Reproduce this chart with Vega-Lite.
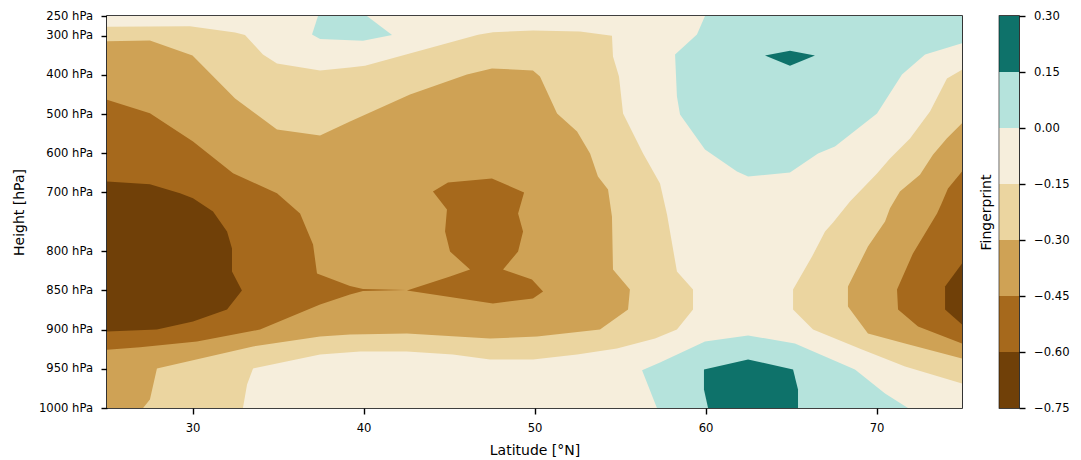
{
  "$schema": "https://vega.github.io/schema/vega-lite/v6.json",
  "background": "white",
  "padding": {"left": 12, "top": 9, "right": 5, "bottom": 2},
  "config": {
    "font": "DejaVu Sans",
    "view": {"stroke": "#000000", "strokeWidth": 1.6},
    "axis": {
      "labelFont": "DejaVu Sans", "titleFont": "DejaVu Sans",
      "labelFontSize": 11.6, "titleFontSize": 14, "titleFontWeight": "normal",
      "labelColor": "#000000", "titleColor": "#000000", "tickColor": "#000000",
      "tickWidth": 1.4, "tickSize": 6, "labelPadding": 8.5,
      "domain": false, "grid": false, "labelFlush": false, "labelOverlap": false
    }
  },
  "datasets": {
    "poly": [
      {"g":"bg","band":"-0.15..0.00","i":1,"lat":25,"p":250},
      {"g":"bg","band":"-0.15..0.00","i":2,"lat":75,"p":250},
      {"g":"bg","band":"-0.15..0.00","i":3,"lat":75,"p":1000},
      {"g":"bg","band":"-0.15..0.00","i":4,"lat":25,"p":1000},

      {"g":"L1a","band":"-0.30..-0.15","i":1,"lat":25,"p":277.5},
      {"g":"L1a","band":"-0.30..-0.15","i":2,"lat":29.85,"p":276},
      {"g":"L1a","band":"-0.30..-0.15","i":3,"lat":32.49,"p":292.1},
      {"g":"L1a","band":"-0.30..-0.15","i":4,"lat":33.07,"p":298.5},
      {"g":"L1a","band":"-0.30..-0.15","i":5,"lat":34.12,"p":348.2},
      {"g":"L1a","band":"-0.30..-0.15","i":6,"lat":34.94,"p":371.2},
      {"g":"L1a","band":"-0.30..-0.15","i":7,"lat":37.46,"p":389},
      {"g":"L1a","band":"-0.30..-0.15","i":8,"lat":39.21,"p":381.4},
      {"g":"L1a","band":"-0.30..-0.15","i":9,"lat":40.09,"p":377},
      {"g":"L1a","band":"-0.30..-0.15","i":10,"lat":46.7,"p":298},
      {"g":"L1a","band":"-0.30..-0.15","i":11,"lat":47.57,"p":291.3},
      {"g":"L1a","band":"-0.30..-0.15","i":12,"lat":49.91,"p":287},
      {"g":"L1a","band":"-0.30..-0.15","i":13,"lat":52.66,"p":289.5},
      {"g":"L1a","band":"-0.30..-0.15","i":14,"lat":54.53,"p":300.5},
      {"g":"L1a","band":"-0.30..-0.15","i":15,"lat":54.59,"p":353.3},
      {"g":"L1a","band":"-0.30..-0.15","i":16,"lat":54.94,"p":404.3},
      {"g":"L1a","band":"-0.30..-0.15","i":17,"lat":55.18,"p":498.7},
      {"g":"L1a","band":"-0.30..-0.15","i":18,"lat":56.35,"p":600.8},
      {"g":"L1a","band":"-0.30..-0.15","i":19,"lat":57.34,"p":677.3},
      {"g":"L1a","band":"-0.30..-0.15","i":20,"lat":57.75,"p":753.2},
      {"g":"L1a","band":"-0.30..-0.15","i":21,"lat":58.33,"p":825.9},
      {"g":"L1a","band":"-0.30..-0.15","i":22,"lat":59.27,"p":848.9},
      {"g":"L1a","band":"-0.30..-0.15","i":23,"lat":59.27,"p":874.4},
      {"g":"L1a","band":"-0.30..-0.15","i":24,"lat":58.33,"p":899.9},
      {"g":"L1a","band":"-0.30..-0.15","i":25,"lat":57.05,"p":911.3},
      {"g":"L1a","band":"-0.30..-0.15","i":26,"lat":54.82,"p":924.1},
      {"g":"L1a","band":"-0.30..-0.15","i":27,"lat":52.49,"p":931.8},
      {"g":"L1a","band":"-0.30..-0.15","i":28,"lat":49.91,"p":938.1},
      {"g":"L1a","band":"-0.30..-0.15","i":29,"lat":47.4,"p":938.1},
      {"g":"L1a","band":"-0.30..-0.15","i":30,"lat":45.23,"p":931.8},
      {"g":"L1a","band":"-0.30..-0.15","i":31,"lat":42.54,"p":927.9},
      {"g":"L1a","band":"-0.30..-0.15","i":32,"lat":39.8,"p":927.9},
      {"g":"L1a","band":"-0.30..-0.15","i":33,"lat":37.46,"p":931.8},
      {"g":"L1a","band":"-0.30..-0.15","i":34,"lat":33.54,"p":949.6},
      {"g":"L1a","band":"-0.30..-0.15","i":35,"lat":33.19,"p":970},
      {"g":"L1a","band":"-0.30..-0.15","i":36,"lat":32.95,"p":1000},
      {"g":"L1a","band":"-0.30..-0.15","i":37,"lat":25,"p":1000},

      {"g":"L1b","band":"-0.30..-0.15","i":1,"lat":75,"p":387.2},
      {"g":"L1b","band":"-0.30..-0.15","i":2,"lat":74.12,"p":409.4},
      {"g":"L1b","band":"-0.30..-0.15","i":3,"lat":73.13,"p":493.6},
      {"g":"L1b","band":"-0.30..-0.15","i":4,"lat":71.96,"p":562.5},
      {"g":"L1b","band":"-0.30..-0.15","i":5,"lat":70.79,"p":613.5},
      {"g":"L1b","band":"-0.30..-0.15","i":6,"lat":70.03,"p":651.8},
      {"g":"L1b","band":"-0.30..-0.15","i":7,"lat":68.45,"p":723.2},
      {"g":"L1b","band":"-0.30..-0.15","i":8,"lat":67.46,"p":763.4},
      {"g":"L1b","band":"-0.30..-0.15","i":9,"lat":66.99,"p":774.9},
      {"g":"L1b","band":"-0.30..-0.15","i":10,"lat":66.23,"p":806.8},
      {"g":"L1b","band":"-0.30..-0.15","i":11,"lat":65.12,"p":848.9},
      {"g":"L1b","band":"-0.30..-0.15","i":12,"lat":65.12,"p":874.4},
      {"g":"L1b","band":"-0.30..-0.15","i":13,"lat":66.29,"p":899.9},
      {"g":"L1b","band":"-0.30..-0.15","i":14,"lat":69.15,"p":925.4},
      {"g":"L1b","band":"-0.30..-0.15","i":15,"lat":71.67,"p":947.1},
      {"g":"L1b","band":"-0.30..-0.15","i":16,"lat":75,"p":968.7},

      {"g":"L2a","band":"-0.45..-0.30","i":1,"lat":25,"p":314.3},
      {"g":"L2a","band":"-0.45..-0.30","i":2,"lat":27.51,"p":312.5},
      {"g":"L2a","band":"-0.45..-0.30","i":3,"lat":30,"p":350.8},
      {"g":"L2a","band":"-0.45..-0.30","i":4,"lat":32.49,"p":460.4},
      {"g":"L2a","band":"-0.45..-0.30","i":5,"lat":34.94,"p":539.5},
      {"g":"L2a","band":"-0.45..-0.30","i":6,"lat":37.46,"p":554.8},
      {"g":"L2a","band":"-0.45..-0.30","i":7,"lat":39.21,"p":519.1},
      {"g":"L2a","band":"-0.45..-0.30","i":8,"lat":42.72,"p":450.2},
      {"g":"L2a","band":"-0.45..-0.30","i":9,"lat":46.05,"p":399.2},
      {"g":"L2a","band":"-0.45..-0.30","i":10,"lat":47.51,"p":383.9},
      {"g":"L2a","band":"-0.45..-0.30","i":11,"lat":49.91,"p":389},
      {"g":"L2a","band":"-0.45..-0.30","i":12,"lat":50.32,"p":404.3},
      {"g":"L2a","band":"-0.45..-0.30","i":13,"lat":51.32,"p":498.7},
      {"g":"L2a","band":"-0.45..-0.30","i":14,"lat":52.49,"p":544.6},
      {"g":"L2a","band":"-0.45..-0.30","i":15,"lat":53.25,"p":600.8},
      {"g":"L2a","band":"-0.45..-0.30","i":16,"lat":53.71,"p":659.4},
      {"g":"L2a","band":"-0.45..-0.30","i":17,"lat":54.3,"p":692.6},
      {"g":"L2a","band":"-0.45..-0.30","i":18,"lat":54.53,"p":755.7},
      {"g":"L2a","band":"-0.45..-0.30","i":19,"lat":54.59,"p":823.3},
      {"g":"L2a","band":"-0.45..-0.30","i":20,"lat":55.58,"p":848.9},
      {"g":"L2a","band":"-0.45..-0.30","i":21,"lat":55.47,"p":874.4},
      {"g":"L2a","band":"-0.45..-0.30","i":22,"lat":53.83,"p":899.9},
      {"g":"L2a","band":"-0.45..-0.30","i":23,"lat":50.15,"p":908.8},
      {"g":"L2a","band":"-0.45..-0.30","i":24,"lat":47.4,"p":911.3},
      {"g":"L2a","band":"-0.45..-0.30","i":25,"lat":42.54,"p":905},
      {"g":"L2a","band":"-0.45..-0.30","i":26,"lat":39.21,"p":906.3},
      {"g":"L2a","band":"-0.45..-0.30","i":27,"lat":37.46,"p":908.8},
      {"g":"L2a","band":"-0.45..-0.30","i":28,"lat":33.54,"p":921.5},
      {"g":"L2a","band":"-0.45..-0.30","i":29,"lat":27.92,"p":949.6},
      {"g":"L2a","band":"-0.45..-0.30","i":30,"lat":27.51,"p":989.1},
      {"g":"L2a","band":"-0.45..-0.30","i":31,"lat":27.11,"p":1000},
      {"g":"L2a","band":"-0.45..-0.30","i":32,"lat":25,"p":1000},

      {"g":"L2b","band":"-0.45..-0.30","i":1,"lat":75,"p":523.5},
      {"g":"L2b","band":"-0.45..-0.30","i":2,"lat":74.12,"p":561.7},
      {"g":"L2b","band":"-0.45..-0.30","i":3,"lat":73.3,"p":604.1},
      {"g":"L2b","band":"-0.45..-0.30","i":4,"lat":72.54,"p":655.1},
      {"g":"L2b","band":"-0.45..-0.30","i":5,"lat":71.37,"p":697.7},
      {"g":"L2b","band":"-0.45..-0.30","i":6,"lat":70.79,"p":740.3},
      {"g":"L2b","band":"-0.45..-0.30","i":7,"lat":70.5,"p":762.1},
      {"g":"L2b","band":"-0.45..-0.30","i":8,"lat":69.5,"p":794},
      {"g":"L2b","band":"-0.45..-0.30","i":9,"lat":68.33,"p":845},
      {"g":"L2b","band":"-0.45..-0.30","i":10,"lat":68.33,"p":870.5},
      {"g":"L2b","band":"-0.45..-0.30","i":11,"lat":69.5,"p":905},
      {"g":"L2b","band":"-0.45..-0.30","i":12,"lat":71.67,"p":917.7},
      {"g":"L2b","band":"-0.45..-0.30","i":13,"lat":75,"p":936.8},

      {"g":"L3a","band":"-0.60..-0.45","i":1,"lat":25,"p":463.8},
      {"g":"L3a","band":"-0.60..-0.45","i":2,"lat":27.51,"p":498},
      {"g":"L3a","band":"-0.60..-0.45","i":3,"lat":30.03,"p":570.1},
      {"g":"L3a","band":"-0.60..-0.45","i":4,"lat":32.37,"p":651},
      {"g":"L3a","band":"-0.60..-0.45","i":5,"lat":34.94,"p":702},
      {"g":"L3a","band":"-0.60..-0.45","i":6,"lat":36.29,"p":751.9},
      {"g":"L3a","band":"-0.60..-0.45","i":7,"lat":37.05,"p":791.4},
      {"g":"L3a","band":"-0.60..-0.45","i":8,"lat":37.28,"p":828.4},
      {"g":"L3a","band":"-0.60..-0.45","i":9,"lat":39.21,"p":844.4},
      {"g":"L3a","band":"-0.60..-0.45","i":10,"lat":39.97,"p":848.2},
      {"g":"L3a","band":"-0.60..-0.45","i":11,"lat":42.49,"p":849.5},
      {"g":"L3a","band":"-0.60..-0.45","i":12,"lat":39.97,"p":850.8},
      {"g":"L3a","band":"-0.60..-0.45","i":13,"lat":39.21,"p":855.2},
      {"g":"L3a","band":"-0.60..-0.45","i":14,"lat":37.46,"p":868},
      {"g":"L3a","band":"-0.60..-0.45","i":15,"lat":33.95,"p":899.9},
      {"g":"L3a","band":"-0.60..-0.45","i":16,"lat":30.26,"p":915.2},
      {"g":"L3a","band":"-0.60..-0.45","i":17,"lat":26.93,"p":922.4},
      {"g":"L3a","band":"-0.60..-0.45","i":18,"lat":25,"p":925.8},

      {"g":"L3b","band":"-0.60..-0.45","i":1,"lat":44.06,"p":697.7},
      {"g":"L3b","band":"-0.60..-0.45","i":2,"lat":44.94,"p":674.7},
      {"g":"L3b","band":"-0.60..-0.45","i":3,"lat":47.51,"p":664.5},
      {"g":"L3b","band":"-0.60..-0.45","i":4,"lat":49.39,"p":700.2},
      {"g":"L3b","band":"-0.60..-0.45","i":5,"lat":49.04,"p":751.9},
      {"g":"L3b","band":"-0.60..-0.45","i":6,"lat":49.33,"p":774.9},
      {"g":"L3b","band":"-0.60..-0.45","i":7,"lat":49.04,"p":800.4},
      {"g":"L3b","band":"-0.60..-0.45","i":8,"lat":48.16,"p":823.3},
      {"g":"L3b","band":"-0.60..-0.45","i":9,"lat":49.85,"p":836.1},
      {"g":"L3b","band":"-0.60..-0.45","i":10,"lat":50.5,"p":851.4},
      {"g":"L3b","band":"-0.60..-0.45","i":11,"lat":49.91,"p":860.3},
      {"g":"L3b","band":"-0.60..-0.45","i":12,"lat":47.57,"p":866.7},
      {"g":"L3b","band":"-0.60..-0.45","i":13,"lat":42.54,"p":850.1},
      {"g":"L3b","band":"-0.60..-0.45","i":14,"lat":45.06,"p":832.3},
      {"g":"L3b","band":"-0.60..-0.45","i":15,"lat":46.23,"p":823.3},
      {"g":"L3b","band":"-0.60..-0.45","i":16,"lat":45.06,"p":800.4},
      {"g":"L3b","band":"-0.60..-0.45","i":17,"lat":44.77,"p":774.9},
      {"g":"L3b","band":"-0.60..-0.45","i":18,"lat":44.88,"p":743.6},

      {"g":"L3c","band":"-0.60..-0.45","i":1,"lat":75,"p":646.7},
      {"g":"L3c","band":"-0.60..-0.45","i":2,"lat":74.18,"p":690},
      {"g":"L3c","band":"-0.60..-0.45","i":3,"lat":73.78,"p":731},
      {"g":"L3c","band":"-0.60..-0.45","i":4,"lat":73.54,"p":751.9},
      {"g":"L3c","band":"-0.60..-0.45","i":5,"lat":72.13,"p":802.9},
      {"g":"L3c","band":"-0.60..-0.45","i":6,"lat":71.2,"p":848.9},
      {"g":"L3c","band":"-0.60..-0.45","i":7,"lat":71.26,"p":874.4},
      {"g":"L3c","band":"-0.60..-0.45","i":8,"lat":72.43,"p":896},
      {"g":"L3c","band":"-0.60..-0.45","i":9,"lat":75,"p":917.7},

      {"g":"L4a","band":"-0.75..-0.60","i":1,"lat":25,"p":672.2},
      {"g":"L4a","band":"-0.75..-0.60","i":2,"lat":27.51,"p":679.1},
      {"g":"L4a","band":"-0.75..-0.60","i":3,"lat":29.27,"p":702},
      {"g":"L4a","band":"-0.75..-0.60","i":4,"lat":30.03,"p":714.8},
      {"g":"L4a","band":"-0.75..-0.60","i":5,"lat":31.2,"p":748.7},
      {"g":"L4a","band":"-0.75..-0.60","i":6,"lat":32.02,"p":774.9},
      {"g":"L4a","band":"-0.75..-0.60","i":7,"lat":32.31,"p":796.5},
      {"g":"L4a","band":"-0.75..-0.60","i":8,"lat":32.31,"p":825.9},
      {"g":"L4a","band":"-0.75..-0.60","i":9,"lat":32.89,"p":850.1},
      {"g":"L4a","band":"-0.75..-0.60","i":10,"lat":32.02,"p":874.4},
      {"g":"L4a","band":"-0.75..-0.60","i":11,"lat":30.03,"p":889.7},
      {"g":"L4a","band":"-0.75..-0.60","i":12,"lat":27.92,"p":899.9},
      {"g":"L4a","band":"-0.75..-0.60","i":13,"lat":25,"p":902.4},

      {"g":"L4b","band":"-0.75..-0.60","i":1,"lat":75,"p":815.7},
      {"g":"L4b","band":"-0.75..-0.60","i":2,"lat":74.01,"p":845},
      {"g":"L4b","band":"-0.75..-0.60","i":3,"lat":74.01,"p":874.4},
      {"g":"L4b","band":"-0.75..-0.60","i":4,"lat":75,"p":893.5},

      {"g":"T1a","band":"0.00..0.15","i":1,"lat":37.34,"p":250},
      {"g":"T1a","band":"0.00..0.15","i":2,"lat":40.2,"p":250},
      {"g":"T1a","band":"0.00..0.15","i":3,"lat":41.67,"p":298.5},
      {"g":"T1a","band":"0.00..0.15","i":4,"lat":39.97,"p":313.3},
      {"g":"T1a","band":"0.00..0.15","i":5,"lat":37.46,"p":308.7},
      {"g":"T1a","band":"0.00..0.15","i":6,"lat":36.99,"p":297.2},

      {"g":"T1b","band":"0.00..0.15","i":1,"lat":59.97,"p":250},
      {"g":"T1b","band":"0.00..0.15","i":2,"lat":59.5,"p":297.2},
      {"g":"T1b","band":"0.00..0.15","i":3,"lat":58.22,"p":348.2},
      {"g":"T1b","band":"0.00..0.15","i":4,"lat":58.33,"p":455.3},
      {"g":"T1b","band":"0.00..0.15","i":5,"lat":58.51,"p":501.3},
      {"g":"T1b","band":"0.00..0.15","i":6,"lat":59.97,"p":590.5},
      {"g":"T1b","band":"0.00..0.15","i":7,"lat":61.84,"p":646.7},
      {"g":"T1b","band":"0.00..0.15","i":8,"lat":62.49,"p":659.4},
      {"g":"T1b","band":"0.00..0.15","i":9,"lat":64.94,"p":649.2},
      {"g":"T1b","band":"0.00..0.15","i":10,"lat":66.58,"p":600.8},
      {"g":"T1b","band":"0.00..0.15","i":11,"lat":67.57,"p":582.9},
      {"g":"T1b","band":"0.00..0.15","i":12,"lat":70.03,"p":498.7},
      {"g":"T1b","band":"0.00..0.15","i":13,"lat":71.49,"p":399.2},
      {"g":"T1b","band":"0.00..0.15","i":14,"lat":72.84,"p":348.2},
      {"g":"T1b","band":"0.00..0.15","i":15,"lat":75,"p":319.4},
      {"g":"T1b","band":"0.00..0.15","i":16,"lat":75,"p":250},

      {"g":"T1c","band":"0.00..0.15","i":1,"lat":56.29,"p":951.8},
      {"g":"T1c","band":"0.00..0.15","i":2,"lat":57.34,"p":942},
      {"g":"T1c","band":"0.00..0.15","i":3,"lat":59.97,"p":915.2},
      {"g":"T1c","band":"0.00..0.15","i":4,"lat":62.49,"p":907.5},
      {"g":"T1c","band":"0.00..0.15","i":5,"lat":65.23,"p":917.7},
      {"g":"T1c","band":"0.00..0.15","i":6,"lat":68.74,"p":950.9},
      {"g":"T1c","band":"0.00..0.15","i":7,"lat":70.5,"p":981.5},
      {"g":"T1c","band":"0.00..0.15","i":8,"lat":71.84,"p":1000},
      {"g":"T1c","band":"0.00..0.15","i":9,"lat":57.16,"p":1000},

      {"g":"T2a","band":"0.15..0.30","i":1,"lat":63.48,"p":350.8},
      {"g":"T2a","band":"0.15..0.30","i":2,"lat":64.94,"p":338.8},
      {"g":"T2a","band":"0.15..0.30","i":3,"lat":66.4,"p":350.8},
      {"g":"T2a","band":"0.15..0.30","i":4,"lat":64.94,"p":377},

      {"g":"T2b","band":"0.15..0.30","i":1,"lat":59.91,"p":950.9},
      {"g":"T2b","band":"0.15..0.30","i":2,"lat":62.49,"p":938.1},
      {"g":"T2b","band":"0.15..0.30","i":3,"lat":65.12,"p":950.9},
      {"g":"T2b","band":"0.15..0.30","i":4,"lat":65.41,"p":976.4},
      {"g":"T2b","band":"0.15..0.30","i":5,"lat":65.41,"p":1000},
      {"g":"T2b","band":"0.15..0.30","i":6,"lat":60.15,"p":1000},
      {"g":"T2b","band":"0.15..0.30","i":7,"lat":59.91,"p":976.4}
    ],
    "bar": [
      {"band":"-0.75..-0.60","lo":-0.75,"hi":-0.6},
      {"band":"-0.60..-0.45","lo":-0.6,"hi":-0.45},
      {"band":"-0.45..-0.30","lo":-0.45,"hi":-0.3},
      {"band":"-0.30..-0.15","lo":-0.3,"hi":-0.15},
      {"band":"-0.15..0.00","lo":-0.15,"hi":0},
      {"band":"0.00..0.15","lo":0,"hi":0.15},
      {"band":"0.15..0.30","lo":0.15,"hi":0.3}
    ]
  },
  "hconcat": [
    {
      "width": 855,
      "height": 392,
      "data": {"name": "poly"},
      "encoding": {
        "x": {"field": "lat", "type": "quantitative",
              "scale": {"domain": [25, 75], "nice": false, "zero": false},
              "axis": {"title": "Latitude [°N]", "values": [30, 40, 50, 60, 70], "titlePadding": 9}},
        "y": {"field": "p", "type": "quantitative",
              "scale": {"domain": [250,300,350,400,450,500,550,600,650,700,750,775,800,825,850,875,900,925,950,975,1000],
                        "range": [0,19.6,39.2,58.8,78.4,98,117.6,137.2,156.8,176.4,196,215.6,235.2,254.8,274.4,294,313.6,333.2,352.8,372.4,392],
                        "nice": false, "zero": false},
              "axis": {"title": "Height [hPa]", "values": [250,300,400,500,600,700,800,850,900,950,1000],
                       "labelExpr": "datum.value + ' hPa'", "titlePadding": 11.5}},
        "fill": {"field": "band", "type": "nominal",
                 "scale": {"domain": ["-0.75..-0.60","-0.60..-0.45","-0.45..-0.30","-0.30..-0.15","-0.15..0.00","0.00..0.15","0.15..0.30"],
                           "range": ["#704008","#a6691c","#cfa255","#ebd5a0","#f6eedc","#b5e3dc","#0e726a"]},
                 "legend": null},
        "detail": {"field": "g", "type": "nominal"},
        "order": {"field": "i", "type": "quantitative"}
      },
      "layer": [
        {"transform": [{"filter": "datum.band === '-0.15..0.00'"}], "mark": {"type": "line", "interpolate": "linear-closed", "strokeWidth": 0, "clip": true}},
        {"transform": [{"filter": "datum.band === '-0.30..-0.15'"}], "mark": {"type": "line", "interpolate": "linear-closed", "strokeWidth": 0, "clip": true}},
        {"transform": [{"filter": "datum.band === '-0.45..-0.30'"}], "mark": {"type": "line", "interpolate": "linear-closed", "strokeWidth": 0, "clip": true}},
        {"transform": [{"filter": "datum.band === '-0.60..-0.45'"}], "mark": {"type": "line", "interpolate": "linear-closed", "strokeWidth": 0, "clip": true}},
        {"transform": [{"filter": "datum.band === '-0.75..-0.60'"}], "mark": {"type": "line", "interpolate": "linear-closed", "strokeWidth": 0, "clip": true}},
        {"transform": [{"filter": "datum.band === '0.00..0.15'"}], "mark": {"type": "line", "interpolate": "linear-closed", "strokeWidth": 0, "clip": true}},
        {"transform": [{"filter": "datum.band === '0.15..0.30'"}], "mark": {"type": "line", "interpolate": "linear-closed", "strokeWidth": 0, "clip": true}}
      ]
    },
    {
      "width": 19.5,
      "height": 392,
      "data": {"name": "bar"},
      "encoding": {
        "x": {"datum": 0, "type": "quantitative", "scale": {"domain": [0, 1], "nice": false, "zero": false}, "axis": null},
        "x2": {"datum": 1},
        "y2": {"field": "hi"},
        "fill": {"field": "band", "type": "nominal",
                 "scale": {"domain": ["-0.75..-0.60","-0.60..-0.45","-0.45..-0.30","-0.30..-0.15","-0.15..0.00","0.00..0.15","0.15..0.30"],
                           "range": ["#704008","#a6691c","#cfa255","#ebd5a0","#f6eedc","#b5e3dc","#0e726a"]},
                 "legend": null}
      },
      "layer": [
        {"mark": "rect",
         "encoding": {"y": {"field": "lo", "type": "quantitative",
                            "scale": {"domain": [-0.75, 0.3], "nice": false, "zero": false},
                            "axis": {"orient": "left", "title": "Fingerprint", "labels": false, "ticks": false,
                                     "domain": false, "minExtent": 0, "maxExtent": 0, "titlePadding": 6}}}},
        {"mark": "rect",
         "encoding": {"y": {"field": "lo", "type": "quantitative",
                            "scale": {"domain": [-0.75, 0.3], "nice": false, "zero": false},
                            "axis": {"orient": "right", "title": null,
                                     "values": [-0.75, -0.6, -0.45, -0.3, -0.15, 0, 0.15, 0.3], "format": ".2f"}}}}
      ],
      "resolve": {"axis": {"y": "independent"}}
    }
  ],
  "spacing": 15.5
}
